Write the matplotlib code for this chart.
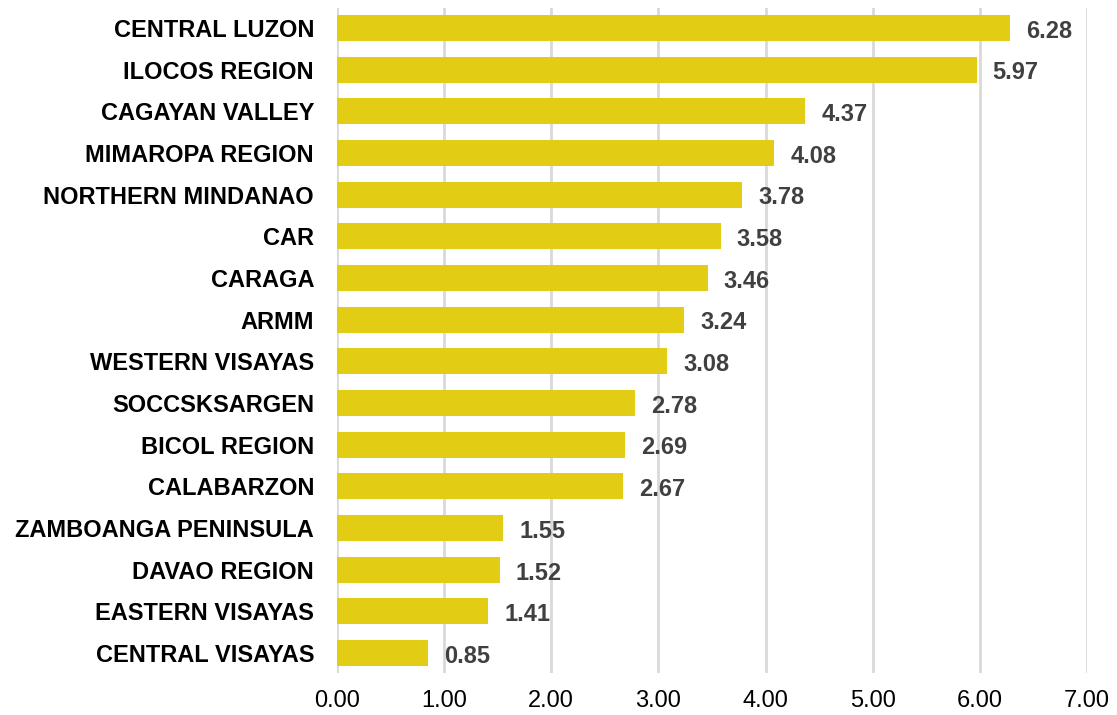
import matplotlib.pyplot as plt

plt.rcParams['font.family'] = ['Liberation Sans', 'DejaVu Sans']

regions = ["CENTRAL LUZON", "ILOCOS REGION", "CAGAYAN VALLEY", "MIMAROPA REGION",
           "NORTHERN MINDANAO", "CAR", "CARAGA", "ARMM", "WESTERN VISAYAS",
           "SOCCSKSARGEN", "BICOL REGION", "CALABARZON", "ZAMBOANGA PENINSULA",
           "DAVAO REGION", "EASTERN VISAYAS", "CENTRAL VISAYAS"]
values = [6.28, 5.97, 4.37, 4.08, 3.78, 3.58, 3.46, 3.24, 3.08,
          2.78, 2.69, 2.67, 1.55, 1.52, 1.41, 0.85]
xticks = [0, 1, 2, 3, 4, 5, 6, 7]

fig = plt.figure(figsize=(11.17, 7.15), dpi=100)
ax = fig.add_axes([337/1117, 1-673/715, 750/1117, 665/715])

pos = range(len(regions))
ax.barh(pos, values, height=0.63, color='#E2CC14', zorder=3)

for y, v in zip(pos, values):
    ax.text(v + 0.15, y + 0.08, f"{v:.2f}", va='center', ha='left',
            fontsize=17, fontweight='bold', color='#404040')

ax.set_yticks(list(pos))
ax.set_yticklabels(regions, fontsize=17, fontweight='bold')
ax.set_ylim(15.48, -0.48)
ax.set_xlim(0, 7)
ax.set_xticks(xticks)
ax.set_xticklabels([f"{t:.2f}" for t in xticks], fontsize=17)

ax.grid(axis='x', color='#D9D9D9', linewidth=2, zorder=0)
for s in ax.spines.values():
    s.set_visible(False)
ax.tick_params(axis='y', length=0, pad=16.5)
ax.tick_params(axis='x', length=0, pad=12)

fig.savefig("out.png", dpi=100)
